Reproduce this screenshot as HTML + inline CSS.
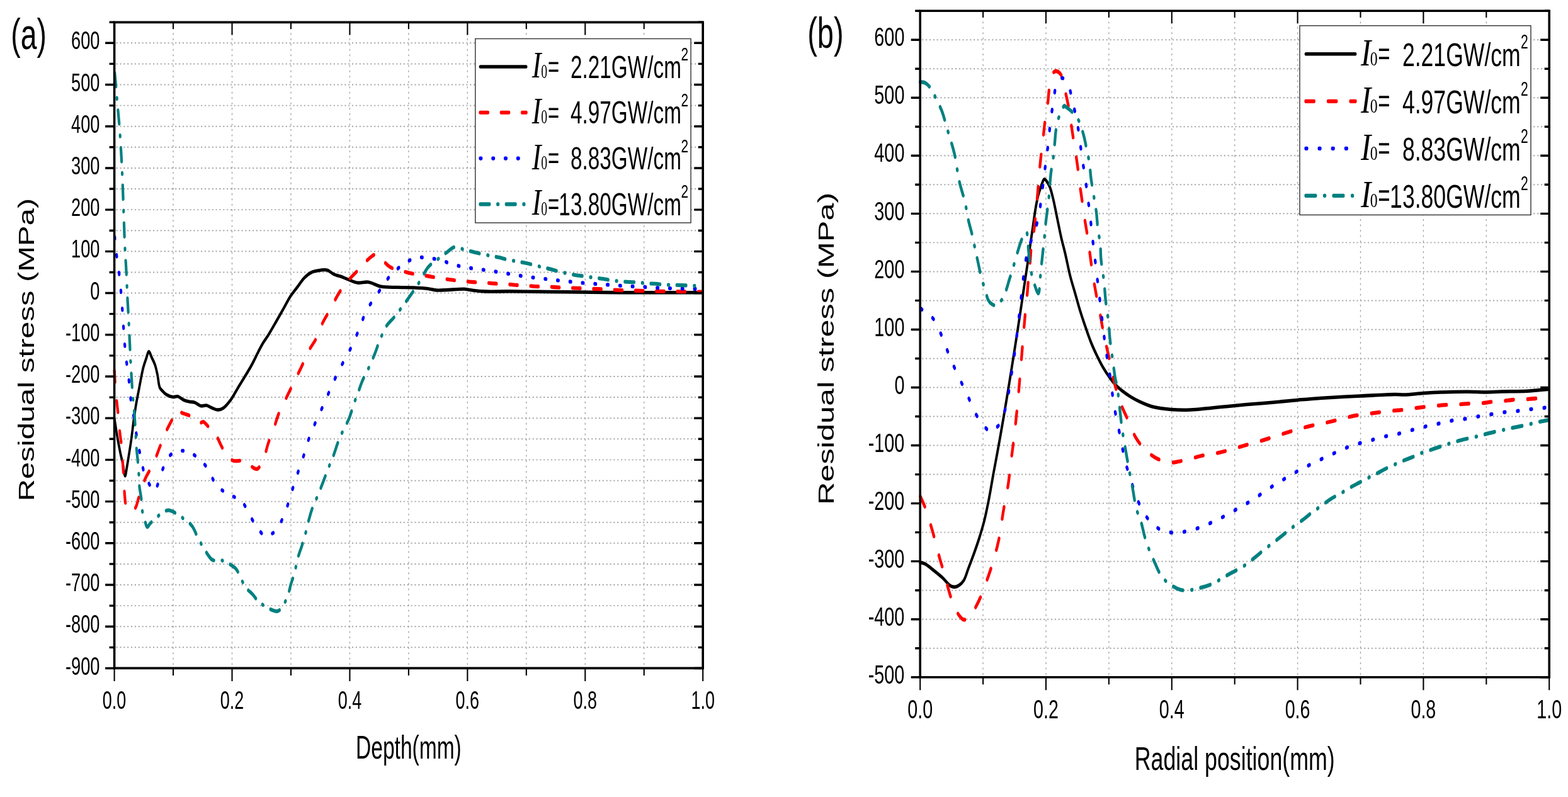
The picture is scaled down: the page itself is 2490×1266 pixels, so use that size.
<!DOCTYPE html><html><head><meta charset="utf-8"><title>Residual stress</title><style>html,body{margin:0;padding:0;background:#fff;}svg{display:block;}text{font-kerning:none;}</style></head><body><svg width="2490" height="1266" viewBox="0 0 2490 1266"><rect width="2490" height="1266" fill="#fff"/><g transform="scale(1,1.45)">
<path d="M275.06,24.41 V732 M368.52,24.41 V732 M461.98,24.41 V732 M555.44,24.41 V732 M648.9,24.41 V732 M742.36,24.41 V732 M835.82,24.41 V732 M929.28,24.41 V732 M1022.74,24.41 V732 M184.6,47.1 H1114.2 M184.6,69.93 H1114.2 M184.6,92.77 H1114.2 M184.6,115.6 H1114.2 M184.6,138.43 H1114.2 M184.6,161.26 H1114.2 M184.6,184.09 H1114.2 M184.6,206.92 H1114.2 M184.6,229.75 H1114.2 M184.6,252.58 H1114.2 M184.6,275.41 H1114.2 M184.6,298.24 H1114.2 M184.6,321.08 H1114.2 M184.6,343.91 H1114.2 M184.6,366.74 H1114.2 M184.6,389.57 H1114.2 M184.6,412.4 H1114.2 M184.6,435.23 H1114.2 M184.6,458.06 H1114.2 M184.6,480.89 H1114.2 M184.6,503.72 H1114.2 M184.6,526.56 H1114.2 M184.6,549.39 H1114.2 M184.6,572.22 H1114.2 M184.6,595.05 H1114.2 M184.6,617.88 H1114.2 M184.6,640.71 H1114.2 M184.6,663.54 H1114.2 M184.6,686.37 H1114.2 M184.6,709.2 H1114.2" stroke="#a6a6a6" stroke-width="1.35" stroke-dasharray="2.1 3.75" fill="none"/>
</g>
<g transform="scale(1,1.45)">
<path d="M181.7,458.55 C183.17,464.94 184.51,471.38 186.1,477.72 C187.68,484.04 189.6,491.34 191.2,496.55 C192.35,500.32 193.39,502.62 194.5,506.21 C195.88,510.65 197.43,521.23 198.7,521.24 C199.71,521.25 200.56,515.28 201.5,511.72 C202.68,507.27 203.93,501.61 205.1,496.55 C206.27,491.5 207.36,486.96 208.5,481.38 C209.89,474.56 211.27,465.61 212.7,458.55 C213.94,452.41 215.17,446.72 216.5,441.38 C217.68,436.64 218.74,433.21 220.2,428.07 C222.21,420.97 225.11,409.13 227.5,402.76 C229.02,398.71 230.45,396.14 232,393.1 C233.43,390.3 234.85,385.25 236.4,385.17 C237.86,385.1 239.45,389.43 241,391.72 C242.68,394.21 244.65,396.67 246.1,399.59 C247.7,402.81 248.8,406.48 250,410.34 C251.36,414.71 251.82,421.43 253.7,424.48 C254.88,426.4 256.38,427.05 258,428.28 C259.83,429.66 261.77,431.22 264.2,432.28 C267.13,433.55 271.38,434.63 274.6,434.9 C277.31,435.12 279.58,433.86 282.2,434.28 C285.22,434.76 288.41,437.23 291.6,438.21 C294.71,439.16 298.1,439.71 301.1,440.14 C303.76,440.52 306.01,440.15 308.7,440.76 C311.94,441.49 315.75,444.2 319.1,444.69 C322.05,445.12 324.89,443.74 327.7,444.07 C330.52,444.4 333.08,445.9 336,446.69 C339.18,447.55 342.88,448.97 346.1,448.97 C349.06,448.96 351.71,448.37 354.6,447.03 C358.3,445.32 362.37,441.85 366,438.48 C370,434.77 373.45,429.94 377.4,425.45 C381.66,420.61 386.67,415.07 390.7,410.41 C394.13,406.45 397.03,403.23 400.1,399.31 C403.34,395.18 406.61,390.23 409.6,386.21 C412.2,382.71 414.29,379.65 417,376.48 C419.86,373.14 423.1,370.36 426.4,366.69 C430.36,362.28 434.92,356.63 439,351.72 C442.91,347.03 446.61,342.48 450.4,337.86 C454.18,333.26 457.85,328.13 461.7,324.07 C465.14,320.44 468.64,317.72 472.2,314.48 C475.87,311.15 479.48,307.1 483.4,304.34 C487.01,301.81 490.55,299.74 494.7,298.34 C499.19,296.83 504.99,296.3 509.5,295.93 C513.26,295.63 516.57,295.23 519.9,295.93 C523.24,296.63 525.9,298.92 529.5,300.14 C533.85,301.6 539.81,302.54 544.3,303.72 C548.08,304.72 551.03,305.74 554.7,306.69 C558.78,307.75 563.02,309.27 567.7,309.72 C573.05,310.24 579.14,308.5 585.1,309.1 C591.58,309.76 597.94,312.96 605.1,313.93 C613.17,315.02 622.51,314.56 631.2,314.76 C639.87,314.95 648.82,314.83 657.2,315.1 C665.05,315.36 673.46,315.69 680,316.28 C684.98,316.72 687.43,317.66 693.1,317.93 C703.49,318.43 729.23,316.31 737.4,316.62 C740.54,316.74 741.07,317.05 743.9,317.31 C749.24,317.81 758.17,318.82 767,319.17 C778.83,319.65 794.38,319.12 808.6,319.17 C823.57,319.23 839.4,319.4 854.7,319.52 C869.87,319.63 882.66,319.73 900,319.86 C923.39,320.04 951.66,320.37 982.4,320.48 C1021.45,320.63 1071.07,320.48 1115.4,320.48" fill="none" stroke="#000" stroke-width="3.7" stroke-linecap="round" stroke-linejoin="round"/>
<path d="M181.7,406.21 C182.13,411.45 182.41,416.5 183,421.93 C183.64,427.82 184.63,434.41 185.5,440.28 C186.3,445.71 187.22,450.53 188,455.93 C188.83,461.68 189.4,468.14 190.3,473.79 C191.12,478.96 192.34,483.26 193.1,488.55 C193.97,494.62 194.39,502.17 195,508.21 C195.52,513.37 196.05,517.47 196.5,522.55 C197,528.29 197.17,535.48 197.8,540.9 C198.31,545.25 198.72,549.74 199.7,552.62 C200.33,554.46 200.9,555.89 202,556.9 C203.04,557.85 204.64,558.4 206,558.62 C207.31,558.83 208.62,558.57 210,558.28 C211.57,557.94 213.4,557.92 214.9,556.55 C217.51,554.17 219.03,547.25 221.5,542.21 C224.32,536.44 227.32,529.57 231,523.86 C234.61,518.26 239.56,513.78 243.3,508.21 C247.15,502.47 250.39,495.67 253.7,489.86 C256.7,484.6 258.89,480.02 262.3,474.83 C266.29,468.75 272.72,460.32 276.5,455.86 C278.73,453.24 279.98,450.46 282.2,449.93 C284.39,449.41 286.58,451.6 289.7,452.55 C294.72,454.09 304.46,455.6 309.6,457.79 C313.2,459.32 315.67,462.59 318.2,463.03 C319.96,463.35 321.24,461.71 323,462.07 C325.64,462.61 328.91,466.09 332,468.28 C335.33,470.64 339.09,472.58 342.3,475.79 C346.08,479.59 349.32,485.97 352.7,490.14 C355.53,493.62 357.99,496.85 361,499.31 C363.74,501.55 366.27,503.54 369.8,504.55 C374.23,505.82 381.36,504.03 385.9,504.9 C389.43,505.57 392.11,506.94 395,508.28 C397.81,509.57 400.48,511.89 403,512.76 C405,513.45 406.74,514.31 408.7,513.66 C411.72,512.65 415.52,507.9 418.2,503.86 C421.38,499.07 422.96,491.85 425.7,486.21 C428.34,480.76 431.51,475.97 434.3,470.55 C437.22,464.88 439.5,458.54 442.8,452.9 C446.13,447.2 450.33,442.11 454.2,436.55 C458.22,430.78 462.45,424.59 466.5,418.9 C470.35,413.48 474.15,408.64 477.9,403.17 C481.83,397.44 485.3,390.82 489.5,385.24 C493.56,379.85 498.69,375.59 502.6,370.21 C506.54,364.79 509.25,358.15 513,352.83 C516.52,347.84 520.38,344.02 524.3,339.1 C528.74,333.54 533.26,326.52 538.2,321.1 C542.86,315.99 547.6,311.75 553,307.31 C558.83,302.52 566.25,297.78 572.1,293.52 C577.11,289.87 581.61,285.83 586,283.31 C589.49,281.31 592.76,278.91 596,278.97 C599.12,279.02 601.81,281.47 605.1,283.31 C609.32,285.67 613.83,290.15 619,292.34 C624.5,294.68 631.43,295.32 637.3,296.55 C642.7,297.68 647.54,298.73 652.9,299.52 C658.52,300.34 664.68,300.67 670.3,301.31 C675.59,301.91 680.39,302.62 685.7,303.24 C691.37,303.91 697.6,304.57 703.3,305.17 C708.68,305.74 713.62,306.29 719,306.76 C724.67,307.26 730.82,307.68 736.5,308.07 C741.87,308.44 746.82,308.77 752.2,309.03 C757.9,309.31 764.1,309.38 769.8,309.66 C775.18,309.92 780.12,310.36 785.5,310.62 C791.17,310.9 797.33,310.97 803,311.24 C808.38,311.5 813.39,311.94 818.7,312.21 C824.15,312.48 829.85,312.56 835.3,312.83 C840.61,313.09 845.61,313.59 851,313.79 C856.7,314.01 862.9,313.9 868.6,314.07 C873.98,314.23 878.98,314.54 884.3,314.76 C889.8,314.98 895.52,315.23 901.1,315.38 C906.65,315.53 912.17,315.49 917.7,315.66 C923.23,315.82 928.76,316.18 934.3,316.34 C939.86,316.51 945.44,316.47 951,316.62 C956.54,316.77 962.07,317.02 967.6,317.24 C973.13,317.46 978.74,317.77 984.2,317.93 C989.51,318.09 994.55,318.11 999.9,318.21 C1005.48,318.31 1011.38,318.44 1017,318.55 C1022.47,318.67 1027.77,318.79 1033.2,318.9 C1038.7,319 1044.19,319.13 1049.8,319.17 C1055.58,319.22 1061.7,319.11 1067.4,319.17 C1072.78,319.23 1077.79,319.46 1083.1,319.52 C1088.56,319.58 1094.24,319.47 1099.7,319.52 C1105.01,319.56 1110.17,319.7 1115.4,319.79" fill="none" stroke="#ff0000" stroke-width="4.2" stroke-linecap="round" stroke-linejoin="round" stroke-dasharray="12.4 20.9"/>
<path d="M182.2,259.66 C183.2,266.39 184.04,273.15 185.2,279.86 C186.37,286.59 188.03,293.29 189.2,300 C190.36,306.66 191.33,313.31 192.2,320 C193.07,326.69 193.72,333.41 194.4,340.14 C195.08,346.88 195.63,353.72 196.3,360.41 C196.96,367 197.53,373.43 198.4,380 C199.29,386.71 200.44,393.53 201.6,400.28 C202.77,407.04 204.3,413.79 205.4,420.55 C206.5,427.28 206.9,434.22 208.2,440.76 C209.46,447.06 211.47,452.72 213,459.1 C214.65,465.99 215.93,473.69 217.7,480.69 C219.41,487.42 221.37,493.76 223.4,500.34 C225.47,507.07 227.28,515.25 230,520.62 C232.04,524.64 234.74,527.56 237,530.34 C238.85,532.63 240.65,535 242.4,536.28 C243.63,537.17 244.89,538.25 246,537.93 C247.51,537.49 248.65,534.21 250,531.72 C251.83,528.35 253.56,523.28 255.6,519.31 C257.57,515.47 259.59,511.69 262,508.28 C264.34,504.95 266.79,501.24 269.8,499.03 C272.53,497.03 275.78,496.05 279,495.17 C282.3,494.28 286,493.77 289.4,493.79 C292.67,493.81 295.76,494.36 299,495.17 C302.49,496.05 305.7,497.02 309.6,499.03 C315.18,501.92 322.93,506.81 328.6,512.14 C334.53,517.71 338.03,527 344.2,532 C349.98,536.69 357.4,538.89 364.1,541.79 C370.67,544.64 378.16,545.14 384,549.31 C390.42,553.9 395.58,563.65 400.4,569.1 C403.96,573.13 406.68,576.33 410,579.31 C413.06,582.06 416.24,585.59 419.5,586.48 C422.27,587.24 425.12,586.24 428,585.52 C431.18,584.72 434.48,584.12 437.7,581.66 C442.66,577.86 448.39,568.72 452.5,561.86 C456.42,555.32 458.87,548.27 462,541.52 C465.1,534.83 468.01,528.18 471.2,521.52 C474.44,514.76 478.13,507.98 481.3,501.24 C484.38,494.69 486.65,488.17 490,481.66 C493.53,474.77 497.87,467.78 502.1,461.03 C506.33,454.29 511.12,447.83 515.4,441.17 C519.62,434.61 523.3,427.92 527.6,421.38 C531.99,414.7 536.64,408.13 541.5,401.52 C546.52,394.68 552.43,387.97 557.3,381.03 C562.01,374.33 566.19,367.41 570.3,360.62 C574.28,354.04 576.89,347.26 581.6,340.9 C586.83,333.83 594.33,327.05 600.8,320.48 C607.1,314.08 613.14,307.13 619.9,301.93 C626.22,297.07 633.09,293.22 639.9,289.93 C646.4,286.8 653.1,283.68 659.8,282.48 C666.2,281.34 672.66,282.13 679.2,282.55 C685.93,282.98 692.92,283.92 699.6,285.1 C706.18,286.27 712.51,288.31 719,289.59 C725.45,290.86 731.89,291.91 738.4,292.76 C744.95,293.61 751.59,294.06 758.2,294.69 C764.82,295.32 771.48,295.86 778.1,296.55 C784.71,297.24 791.29,298.08 797.9,298.83 C804.52,299.58 811.21,300.29 817.8,301.03 C824.31,301.77 830.65,302.61 837.2,303.24 C843.88,303.88 850.81,304.28 857.5,304.83 C864.04,305.36 870.39,305.96 876.9,306.48 C883.49,307.02 890.2,307.53 896.8,308 C903.33,308.47 909.77,308.89 916.3,309.31 C922.9,309.74 929.57,310.18 936.2,310.55 C942.81,310.92 949.39,311.2 956,311.52 C962.62,311.84 969.27,312.16 975.9,312.48 C982.53,312.8 989.21,313.18 995.8,313.45 C1002.31,313.71 1008.7,313.81 1015.2,314.07 C1021.77,314.33 1028.43,314.77 1035,315.03 C1041.5,315.3 1047.86,315.49 1054.4,315.66 C1061.09,315.82 1068.01,315.88 1074.7,316 C1081.24,316.11 1087.55,316.24 1094.1,316.34 C1100.81,316.45 1107.7,316.53 1114.5,316.62" fill="none" stroke="#0000ff" stroke-width="4.2" stroke-linecap="round" stroke-linejoin="round" stroke-dasharray="1.8 18"/>
<path d="M182.2,80 C182.8,84.37 183.41,88.43 184,93.1 C184.68,98.45 185.2,103.79 186,110.34 C187.06,119.04 188.72,129.71 189.9,140.69 C191.3,153.65 192.58,169 193.6,183.17 C194.62,197.33 195.23,211.49 196,225.66 C196.77,239.82 197.35,255.4 198.2,268.14 C198.89,278.56 199.83,287.21 200.5,296.55 C201.15,305.62 201.56,314.35 202.2,323.38 C202.85,332.58 203.82,343.48 204.4,351.24 C204.81,356.81 205.02,359.98 205.4,365.59 C205.94,373.52 206.48,383.87 207.3,394.34 C208.29,407 209.92,426.21 211.1,436.21 C211.76,441.82 212.37,444.04 213,449.31 C213.95,457.26 215.11,471.59 215.8,479.31 C216.23,484.16 216.34,487.13 216.8,491.17 C217.29,495.44 218.1,499.62 218.7,504.28 C219.38,509.56 220.12,516.02 220.6,521.24 C221.01,525.7 220.89,529.54 221.5,533.66 C222.12,537.82 223.53,541.76 224.3,546.07 C225.12,550.68 225.23,557.24 226.2,560.48 C226.73,562.26 227.32,562.71 228.1,564.41 C229.51,567.48 231.69,576.97 233.8,577.45 C235.12,577.74 236.42,575 238,573.79 C239.83,572.4 242,571.07 244.2,569.66 C246.64,568.09 249.18,566.38 252,564.83 C255.15,563.1 259.31,560.8 262.3,559.86 C264.42,559.2 266.04,558.9 268,558.97 C270.13,559.04 272.07,559.64 274.6,560.48 C278.3,561.72 283.18,564 287.8,566.34 C293.2,569.09 300.35,572.12 304.9,576.21 C309.01,579.9 311.18,585.04 314.4,589.24 C317.52,593.31 320.41,597.21 323.9,601.03 C327.58,605.06 332.77,610.9 336,612.76 C337.68,613.73 338.54,613.74 340.4,614 C343.43,614.42 348.46,613.3 352.6,614 C357.15,614.77 362.47,617.04 366.5,618.83 C369.81,620.29 372.75,621.49 375.2,623.59 C377.64,625.68 379.04,628.49 381.2,631.38 C383.85,634.93 386.48,640.04 389.9,643.38 C393.19,646.59 397.57,648.38 401.2,651.17 C404.84,653.97 408.42,658.1 411.7,660.14 C414.12,661.64 415.97,662.02 418.6,663.1 C422.08,664.54 426.97,666.83 430.8,667.93 C434.04,668.86 437.2,670.04 440,669.66 C442.56,669.3 444.7,668.13 447,666.21 C450.34,663.42 454.26,657.55 456.8,652.97 C459.16,648.72 460.19,643.94 462,639.79 C463.67,635.98 465.53,633.12 467.2,628.97 C469.33,623.67 471.07,615.93 473.3,610.41 C475.19,605.75 477.49,602.02 479.4,597.86 C481.25,593.84 482.84,590.3 484.6,585.86 C486.73,580.5 488.92,573.24 491.1,567.86 C492.92,563.36 494.45,559.65 496.6,555.66 C498.83,551.51 501.62,547.92 504.3,543.45 C507.47,538.15 511.34,531.2 514.3,525.86 C516.75,521.44 518.56,517.76 520.9,513.66 C523.35,509.37 526.11,505.39 528.7,500.69 C531.65,495.34 534.52,488.42 537.5,483.17 C540.06,478.66 542.56,475 545.3,470.97 C548.09,466.86 551.34,463.37 554.1,458.76 C557.31,453.39 560.2,445.88 563,440.41 C565.31,435.9 567.4,432.28 569.6,428.21 C571.8,424.14 573.75,419.89 576.2,416 C578.62,412.15 581.38,409.14 584.2,404.97 C587.72,399.76 592.27,392.62 595.5,387.03 C598.21,382.34 599.75,378.39 602.5,373.79 C605.7,368.45 609.57,361.59 613.8,357.03 C617.51,353.05 621.99,350.8 626,347.45 C630.09,344.02 633.75,340.73 638.1,336.69 C643.42,331.75 650.48,324.88 655.5,319.86 C659.45,315.91 662.31,313.09 665.9,309.1 C670.09,304.45 674.99,297.16 679,293.52 C681.7,291.07 683.82,289.92 686.6,288.28 C689.69,286.45 693.27,284.99 696.8,283.17 C700.65,281.19 704.7,278.87 708.8,276.83 C713,274.73 717.05,271.37 721.7,270.76 C726.7,270.1 732.96,272.8 737.9,273.66 C742.06,274.38 745.45,274.92 749.4,275.59 C753.6,276.3 757.74,277.06 762.4,277.79 C767.8,278.64 774.61,279.61 779.9,280.34 C784.27,280.95 787.91,281.3 791.9,281.93 C795.91,282.56 799.51,283.45 803.9,284.14 C809.2,284.97 816.19,285.72 821.5,286.41 C825.88,286.99 829.5,287.43 833.5,288 C837.5,288.58 841.12,289.12 845.5,289.86 C850.81,290.76 857.79,292.2 863.1,293.1 C867.48,293.85 871.04,294.24 875.1,294.97 C879.33,295.72 883.4,296.78 888,297.59 C893.22,298.5 899.67,299.35 904.8,300.07 C909.13,300.68 912.79,301.23 916.8,301.66 C920.79,302.08 924.43,302.2 928.8,302.62 C934.09,303.13 941,304.05 946.3,304.55 C950.7,304.97 954.38,305.09 958.4,305.52 C962.41,305.94 966.02,306.66 970.4,307.1 C975.68,307.64 982.61,308.02 987.9,308.34 C992.27,308.61 995.9,308.8 999.9,308.97 C1003.9,309.13 1007.52,309.09 1011.9,309.31 C1017.21,309.57 1024.19,310.29 1029.5,310.55 C1033.88,310.77 1037.5,310.68 1041.5,310.9 C1045.5,311.11 1049.12,311.64 1053.5,311.86 C1058.78,312.13 1065.7,312.09 1071,312.21 C1075.4,312.3 1079.08,312.38 1083.1,312.48 C1087.11,312.59 1090.67,312.69 1095.1,312.83 C1100.58,313 1107.37,313.24 1113.5,313.45" fill="none" stroke="#008080" stroke-width="4.2" stroke-linecap="round" stroke-linejoin="round" stroke-dasharray="14.8 12.85 1 12.65"/>
</g>
<rect x="754.8" y="61.5" width="342.3" height="292.4" fill="#fff" stroke="#3c3c3c" stroke-width="1.5"/>
<g transform="scale(1,1.45)">
<path d="M762.5,73.1 L835.7,73.1" fill="none" stroke="#000" stroke-width="3.7" stroke-linecap="round"/>
<path d="M762.5,123.31 L835.7,123.31" fill="none" stroke="#ff0000" stroke-width="4.2" stroke-linecap="round" stroke-dasharray="12.4 20.9"/>
<path d="M762.5,173.52 L835.7,173.52" fill="none" stroke="#0000ff" stroke-width="4.2" stroke-linecap="round" stroke-dasharray="1.8 18"/>
<path d="M762.5,223.72 L835.7,223.72" fill="none" stroke="#008080" stroke-width="4.2" stroke-linecap="round" stroke-dasharray="14.8 12.85 1 12.65"/>
</g>
<g stroke="#000" fill="none" stroke-linecap="butt">
<path d="M181.6,35.4 H1116.2 V1061.4 H181.6 Z" stroke-width="3.6"/>
<path d="M173.6,35.19 H181.6 M1116.2,35.19 H1108.7 M167.1,68.3 H181.6 M1116.2,68.3 H1102.2 M173.6,101.41 H181.6 M1116.2,101.41 H1108.7 M167.1,134.51 H181.6 M1116.2,134.51 H1102.2 M173.6,167.62 H181.6 M1116.2,167.62 H1108.7 M167.1,200.72 H181.6 M1116.2,200.72 H1102.2 M173.6,233.82 H181.6 M1116.2,233.82 H1108.7 M167.1,266.93 H181.6 M1116.2,266.93 H1102.2 M173.6,300.04 H181.6 M1116.2,300.04 H1108.7 M167.1,333.14 H181.6 M1116.2,333.14 H1102.2 M173.6,366.25 H181.6 M1116.2,366.25 H1108.7 M167.1,399.35 H181.6 M1116.2,399.35 H1102.2 M173.6,432.46 H181.6 M1116.2,432.46 H1108.7 M167.1,465.56 H181.6 M1116.2,465.56 H1102.2 M173.6,498.67 H181.6 M1116.2,498.67 H1108.7 M167.1,531.77 H181.6 M1116.2,531.77 H1102.2 M173.6,564.88 H181.6 M1116.2,564.88 H1108.7 M167.1,597.98 H181.6 M1116.2,597.98 H1102.2 M173.6,631.08 H181.6 M1116.2,631.08 H1108.7 M167.1,664.19 H181.6 M1116.2,664.19 H1102.2 M173.6,697.29 H181.6 M1116.2,697.29 H1108.7 M167.1,730.4 H181.6 M1116.2,730.4 H1102.2 M173.6,763.5 H181.6 M1116.2,763.5 H1108.7 M167.1,796.61 H181.6 M1116.2,796.61 H1102.2 M173.6,829.72 H181.6 M1116.2,829.72 H1108.7 M167.1,862.82 H181.6 M1116.2,862.82 H1102.2 M173.6,895.92 H181.6 M1116.2,895.92 H1108.7 M167.1,929.03 H181.6 M1116.2,929.03 H1102.2 M173.6,962.13 H181.6 M1116.2,962.13 H1108.7 M167.1,995.24 H181.6 M1116.2,995.24 H1102.2 M173.6,1028.35 H181.6 M1116.2,1028.35 H1108.7 M167.1,1061.45 H181.6 M1116.2,1061.45 H1102.2" stroke-width="3.4"/>
<path d="M181.6,1061.4 V1081.9 M181.6,35.4 V55.4 M275.06,1061.4 V1072.9 M275.06,35.4 V45.9 M368.52,1061.4 V1081.9 M368.52,35.4 V55.4 M461.98,1061.4 V1072.9 M461.98,35.4 V45.9 M555.44,1061.4 V1081.9 M555.44,35.4 V55.4 M648.9,1061.4 V1072.9 M648.9,35.4 V45.9 M742.36,1061.4 V1081.9 M742.36,35.4 V55.4 M835.82,1061.4 V1072.9 M835.82,35.4 V45.9 M929.28,1061.4 V1081.9 M929.28,35.4 V55.4 M1022.74,1061.4 V1072.9 M1022.74,35.4 V45.9 M1116.2,1061.4 V1081.9 M1116.2,35.4 V55.4" stroke-width="2.1"/>
</g>
<g transform="scale(1,1.45)">
<path d="M1561.1,11.86 V741.93 M1661,11.86 V741.93 M1760.9,11.86 V741.93 M1860.8,11.86 V741.93 M1960.7,11.86 V741.93 M2060.6,11.86 V741.93 M2160.5,11.86 V741.93 M2260.4,11.86 V741.93 M2360.3,11.86 V741.93 M1464.2,43.59 H2458.2 M1464.2,75.33 H2458.2 M1464.2,107.07 H2458.2 M1464.2,138.81 H2458.2 M1464.2,170.55 H2458.2 M1464.2,202.29 H2458.2 M1464.2,234.03 H2458.2 M1464.2,265.78 H2458.2 M1464.2,297.52 H2458.2 M1464.2,329.26 H2458.2 M1464.2,361 H2458.2 M1464.2,392.74 H2458.2 M1464.2,424.48 H2458.2 M1464.2,456.22 H2458.2 M1464.2,487.97 H2458.2 M1464.2,519.71 H2458.2 M1464.2,551.45 H2458.2 M1464.2,583.19 H2458.2 M1464.2,614.93 H2458.2 M1464.2,646.67 H2458.2 M1464.2,678.41 H2458.2 M1464.2,710.16 H2458.2" stroke="#a6a6a6" stroke-width="1.35" stroke-dasharray="2.1 3.75" fill="none"/>
</g>
<g transform="scale(1,1.45)">
<path d="M1461.2,616 C1463.93,616.62 1466.37,616.74 1469.4,617.86 C1473.6,619.42 1479.04,622.87 1483.7,625.45 C1488.24,627.96 1492.62,630.35 1497,633.1 C1501.49,635.93 1506.13,640.83 1510.3,642.21 C1513.38,643.23 1516.11,643.29 1519.1,642.55 C1522.71,641.66 1527.18,639.18 1530.2,636.14 C1533.46,632.85 1535.14,627.53 1537.6,623.1 C1540.14,618.55 1542.61,614.1 1545.2,609.17 C1548.07,603.71 1551.16,597.86 1554,591.72 C1557.07,585.1 1560.21,578.08 1562.9,570.76 C1565.75,563 1568.1,554.79 1570.5,546.34 C1573.05,537.36 1575.39,527.09 1577.7,518.34 C1579.74,510.62 1581.69,503.73 1583.6,496.55 C1585.46,489.57 1587.23,482.76 1589,475.86 C1590.77,468.97 1592.5,462.07 1594.2,455.17 C1595.9,448.28 1597.55,441.38 1599.2,434.48 C1600.85,427.59 1602.48,420.69 1604.1,413.79 C1605.72,406.9 1607.32,400 1608.9,393.1 C1610.48,386.21 1612.05,379.31 1613.6,372.41 C1615.15,365.52 1616.68,358.62 1618.2,351.72 C1619.72,344.83 1621.22,337.93 1622.7,331.03 C1624.18,324.14 1625.62,317.24 1627.1,310.34 C1628.58,303.45 1630.13,296.56 1631.6,289.66 C1633.07,282.76 1634.45,275.86 1635.9,268.97 C1637.35,262.07 1638.83,255.17 1640.3,248.28 C1641.77,241.38 1643.17,233.67 1644.7,227.59 C1645.93,222.7 1647,218.47 1648.5,214.48 C1649.82,210.96 1651.32,207.89 1653,204.83 C1654.63,201.85 1656.23,196.63 1658.4,196.34 C1660.64,196.05 1664.12,200.54 1666.3,203.59 C1668.81,207.09 1670.24,211.88 1672,216.62 C1674.02,222.05 1675.77,228.77 1677.5,234.48 C1679.09,239.74 1680.56,244.91 1682,249.66 C1683.28,253.88 1684.27,257.31 1685.7,261.59 C1687.39,266.62 1689.55,271.91 1691.6,277.93 C1694.1,285.27 1696.7,294.87 1699.5,302.48 C1702,309.29 1704.77,315.17 1707.4,321.52 C1710.04,327.88 1712.42,334.18 1715.3,340.62 C1718.32,347.37 1722.04,354.86 1725.2,361.1 C1727.9,366.45 1730.19,371.09 1733,375.86 C1735.79,380.6 1738.9,385.23 1742,389.66 C1745.01,393.95 1748,398.14 1751.3,402.07 C1754.57,405.95 1758.23,409.77 1761.7,413.1 C1764.86,416.15 1767.86,418.9 1771.2,421.38 C1774.5,423.83 1777.8,425.82 1781.6,427.93 C1785.91,430.32 1791.02,432.79 1795.8,434.83 C1800.48,436.82 1804.82,438.41 1810,440.07 C1816.06,442.01 1822.6,444.14 1830,445.52 C1838.93,447.18 1849.99,448.03 1860,448.62 C1869.99,449.2 1880,449.28 1890,449.03 C1900,448.79 1910,447.83 1920,447.17 C1930,446.52 1940,445.78 1950,445.1 C1960,444.43 1969.24,443.76 1980,443.1 C1992.51,442.34 2007.13,441.65 2020.6,440.83 C2033.96,440.01 2047.55,439.01 2060.5,438.21 C2072.78,437.45 2082.73,436.78 2096.4,436.14 C2114.61,435.29 2139.65,434.56 2160.1,433.86 C2179.08,433.21 2202.41,432.13 2215,432.07 C2221.6,432.04 2224.2,432.51 2230.1,432.41 C2238.46,432.28 2250.31,431.23 2260.4,430.76 C2270.47,430.29 2279.81,429.86 2290.6,429.59 C2303.06,429.27 2318.83,429.07 2330.9,429.1 C2340.74,429.13 2348.76,429.61 2357.7,429.59 C2366.66,429.56 2374.73,429.15 2384.6,428.97 C2396.68,428.74 2412.03,428.89 2424.9,428.41 C2436.75,427.97 2447.63,427.03 2459,426.34" fill="none" stroke="#000" stroke-width="3.8110000000000004" stroke-linecap="round" stroke-linejoin="round"/>
<path d="M1461.6,543.86 C1464.57,548.69 1467.71,553.03 1470.5,558.34 C1473.66,564.35 1476.62,571.84 1479.3,578.21 C1481.74,584.01 1483.8,589.31 1486,594.97 C1488.24,600.73 1490.23,606.68 1492.6,612.48 C1494.99,618.35 1497.89,624.12 1500.3,630 C1502.69,635.83 1504.56,641.91 1507,647.59 C1509.37,653.1 1511.92,659.06 1514.7,663.59 C1516.99,667.3 1519.27,670.5 1522,673.1 C1524.49,675.48 1527.4,678.37 1530.2,678.83 C1532.71,679.24 1535.47,677.9 1537.9,676.55 C1540.67,675.02 1542.94,672.7 1545.7,669.66 C1549.76,665.18 1555.11,657.47 1558.9,651.38 C1562.38,645.79 1564.9,640.36 1567.8,634.62 C1570.8,628.67 1573.96,622.3 1576.6,616.28 C1579.09,610.61 1581.27,605.2 1583.3,599.52 C1585.34,593.78 1587.32,587.81 1588.8,582 C1590.23,576.39 1590.84,570.88 1592.1,565.24 C1593.4,559.43 1595,553.44 1596.5,547.66 C1597.97,542 1599.65,537.02 1601,530.9 C1602.6,523.65 1603.68,515.32 1605.2,506.9 C1606.89,497.5 1608.97,487.47 1610.7,477.1 C1612.58,465.85 1614.38,453.44 1616,441.79 C1617.58,430.41 1618.9,419.39 1620.3,408 C1621.73,396.36 1623.08,384.39 1624.5,372.69 C1625.91,361.11 1627.53,347.27 1628.8,338.14 C1629.64,332.11 1630.38,328.5 1631.1,323.17 C1631.92,317.09 1632.58,309.81 1633.4,303.59 C1634.15,297.89 1635.04,293 1635.8,287.24 C1636.65,280.82 1637.05,272.84 1638.2,266.83 C1639.14,261.94 1640.64,258.73 1641.7,253.72 C1643.08,247.18 1644.13,239.06 1645.3,230.83 C1646.67,221.25 1648.22,208.29 1649.3,199.66 C1650.06,193.53 1650.46,189.36 1651.2,183.93 C1652,178.06 1653.04,171.57 1654,165.66 C1654.91,160.05 1655.87,154.87 1656.8,149.31 C1657.77,143.54 1658.56,137.4 1659.7,131.66 C1660.8,126.1 1662.42,121.04 1663.5,115.38 C1664.65,109.32 1665.21,101.97 1666.3,96.41 C1667.17,91.99 1667.97,87.56 1669.2,84.62 C1670.02,82.67 1670.71,81.18 1672,80.07 C1673.3,78.95 1675.18,77.9 1677,77.93 C1679.21,77.97 1682.45,79.61 1684.3,81.38 C1686.15,83.15 1687.03,85.96 1688.1,88.55 C1689.26,91.37 1689.8,94.15 1690.9,97.72 C1692.46,102.78 1694.99,109.99 1696.6,116 C1698.13,121.73 1699.15,127.25 1700.4,132.97 C1701.68,138.79 1702.91,144.85 1704.2,150.62 C1705.44,156.18 1706.77,161.36 1708,166.97 C1709.3,172.88 1710.68,179.31 1711.8,185.24 C1712.86,190.83 1713.54,196 1714.6,201.59 C1715.72,207.52 1717.26,214.14 1718.4,219.86 C1719.4,224.91 1720,229.02 1721.1,234.14 C1722.39,240.17 1724.38,247.4 1725.8,253.72 C1727.13,259.63 1728.23,265.11 1729.4,270.9 C1730.6,276.8 1731.7,282.92 1732.9,288.83 C1734.07,294.62 1735.14,300.23 1736.5,306 C1737.9,311.95 1739.58,318.16 1741.2,324 C1742.75,329.59 1744.45,334.76 1746,340.34 C1747.62,346.17 1749.08,352.45 1750.7,358.28 C1752.25,363.86 1753.77,369.05 1755.5,374.62 C1757.32,380.49 1759.59,386.75 1761.4,392.62 C1763.11,398.18 1764.34,403.55 1766.1,408.97 C1767.87,414.44 1769.71,419.77 1772,425.31 C1774.46,431.25 1777.19,437.47 1780.5,443.45 C1783.98,449.73 1788.64,456.04 1792.5,462.07 C1796.13,467.74 1799.37,474.1 1803,478.62 C1805.92,482.26 1808.77,484.84 1812,487.59 C1815.26,490.36 1818.57,492.83 1822.5,495.17 C1826.95,497.83 1831.86,500.57 1837.5,502.41 C1844.11,504.58 1853.65,506.25 1860,506.55 C1864.61,506.77 1867.39,506.1 1872,505.52 C1878.34,504.72 1887.96,502.94 1894.5,501.79 C1899.58,500.91 1902.99,500.06 1908,499.31 C1914.22,498.38 1922.6,497.78 1929,496.9 C1934.43,496.15 1938.68,495.43 1944,494.48 C1950.08,493.4 1957.86,491.83 1963.5,490.69 C1967.84,489.81 1970.18,489.26 1975,488.28 C1983.15,486.62 1996.75,484.13 2007.9,481.79 C2019.5,479.36 2031.48,476.41 2043.3,473.93 C2055.09,471.46 2066.88,469 2078.7,466.97 C2090.48,464.94 2102.31,463.61 2114.1,461.72 C2125.91,459.84 2137.67,457.25 2149.5,455.66 C2161.27,454.06 2173.57,453.17 2184.9,452.14 C2195.34,451.19 2207.13,450.17 2215,449.66 C2220.06,449.32 2222.91,449.38 2227.5,449.03 C2233.13,448.62 2240.27,447.73 2246.3,447.17 C2251.87,446.66 2256.82,446.24 2262.4,445.79 C2268.42,445.31 2275.05,444.81 2281.2,444.41 C2287.11,444.03 2292.79,443.68 2298.6,443.45 C2304.42,443.22 2310.27,443.26 2316.1,443.03 C2321.94,442.8 2327.66,442.3 2333.6,442.07 C2339.75,441.83 2346.32,441.99 2352.4,441.66 C2358.14,441.34 2363.52,440.6 2369.1,440.21 C2374.69,439.82 2380.25,439.68 2385.9,439.31 C2391.68,438.93 2397.51,438.24 2403.4,437.93 C2409.38,437.62 2415.58,437.69 2421.5,437.45 C2427.21,437.22 2432.44,436.78 2438.3,436.55 C2444.72,436.3 2451.77,436.23 2458.5,436.07" fill="none" stroke="#ff0000" stroke-width="4.3260000000000005" stroke-linecap="round" stroke-linejoin="round" stroke-dasharray="13.23 22.3"/>
<path d="M1462.5,338.14 C1469.23,342.05 1477,344.59 1482.7,349.86 C1488.66,355.38 1492.81,363.78 1497.2,370.9 C1501.44,377.77 1504.57,384.93 1508.7,391.79 C1512.9,398.77 1517.62,405.59 1522.2,412.41 C1526.79,419.24 1531.65,425.92 1536.2,432.76 C1540.72,439.56 1544.95,447.73 1549.4,453.31 C1552.9,457.71 1556.65,461.05 1560,464.14 C1562.76,466.68 1565.46,469.14 1567.9,470.69 C1569.71,471.84 1571.17,473.12 1573,473.1 C1575.15,473.09 1577.62,471.07 1580,469.66 C1582.71,468.04 1585.76,466.8 1588.3,463.79 C1592.11,459.3 1595.66,450.29 1598.2,443.24 C1600.7,436.33 1601.83,428.98 1603.5,421.93 C1605.13,415.03 1606.62,408.24 1608.1,401.38 C1609.58,394.52 1611.08,387.64 1612.4,380.76 C1613.71,373.9 1614.81,367.07 1616,360.14 C1617.21,353.09 1618.46,345.87 1619.6,338.83 C1620.72,331.92 1621.68,325.11 1622.8,318.28 C1623.92,311.46 1624.92,304.65 1626.3,297.86 C1627.69,291.04 1629.2,283.17 1631.1,277.45 C1632.56,273.07 1634.18,269.74 1636,266.21 C1637.73,262.84 1639.8,260.62 1641.7,256.69 C1644.46,250.99 1647.93,242.05 1650,234.83 C1651.94,228.06 1652.71,221.48 1654,214.69 C1655.31,207.78 1656.52,200.65 1657.8,193.72 C1659.06,186.92 1660.34,180.31 1661.6,173.52 C1662.88,166.61 1664.29,159.55 1665.4,152.62 C1666.49,145.82 1666.97,139.13 1668.2,132.34 C1669.46,125.41 1671.31,118.36 1672.9,111.45 C1674.47,104.63 1675.41,95.26 1677.7,91.17 C1678.93,88.97 1680.38,87.84 1682,86.9 C1683.5,86.02 1685.43,85.47 1687,85.52 C1688.41,85.56 1689.67,86.18 1691,86.9 C1692.57,87.75 1694.22,88.52 1695.7,90.55 C1698.56,94.48 1700.91,104.52 1703.3,111.45 C1705.64,118.22 1708.02,124.81 1709.9,131.66 C1711.79,138.53 1713.18,145.62 1714.6,152.62 C1716.01,159.58 1716.96,166.63 1718.4,173.52 C1719.83,180.33 1721.77,186.91 1723.2,193.72 C1724.64,200.63 1725.72,207.89 1727,214.69 C1728.22,221.16 1729.56,226.99 1730.7,233.59 C1731.94,240.77 1732.9,248.87 1734.1,256.21 C1735.24,263.19 1736.53,269.75 1737.7,276.62 C1738.9,283.63 1740,290.86 1741.2,297.86 C1742.37,304.74 1743.63,311.4 1744.8,318.28 C1746,325.28 1747.1,332.51 1748.3,339.52 C1749.47,346.39 1750.7,353.13 1751.9,359.93 C1753.1,366.74 1754.12,373.56 1755.5,380.34 C1756.89,387.17 1758.65,393.88 1760.2,400.76 C1761.78,407.77 1763.5,414.97 1764.9,422 C1766.26,428.86 1766.92,435.63 1768.5,442.41 C1770.11,449.33 1772.5,456.21 1774.5,463.1 C1776.5,470 1778.5,476.9 1780.5,483.79 C1782.5,490.69 1784.04,497.66 1786.5,504.48 C1789.02,511.46 1792.31,518.22 1795.5,525.17 C1798.8,532.36 1801.78,540.04 1806,546.9 C1810.27,553.84 1815.02,561.04 1821,566.55 C1827.01,572.09 1834.7,577.19 1842,580 C1848.74,582.6 1855.98,583.18 1863,583.52 C1869.98,583.86 1877.03,582.99 1884,582.07 C1891.03,581.14 1898.04,579.64 1905,577.93 C1912.04,576.2 1919.02,573.96 1926,571.72 C1933.03,569.48 1939.91,567.12 1947,564.48 C1954.4,561.73 1962.16,558.46 1969.5,555.52 C1976.55,552.69 1983.29,550.25 1990.2,547.17 C1997.35,543.99 2004.61,539.94 2011.7,536.69 C2018.5,533.57 2025.06,530.92 2031.9,528 C2038.95,524.99 2046.31,521.7 2053.4,518.9 C2060.21,516.2 2066.75,513.89 2073.6,511.45 C2080.64,508.94 2087.92,506.46 2095.1,504.07 C2102.26,501.68 2109.43,499.37 2116.6,497.1 C2123.76,494.84 2130.94,492.42 2138.1,490.48 C2145.11,488.59 2152.11,487.04 2159.1,485.59 C2166.01,484.15 2172.84,483.08 2179.8,481.79 C2186.9,480.48 2194.18,478.94 2201.3,477.79 C2208.28,476.67 2215.13,476.11 2222.1,474.97 C2229.22,473.8 2236.49,472.15 2243.6,470.83 C2250.59,469.53 2257.4,468.26 2264.4,467.1 C2271.5,465.93 2278.79,464.95 2285.9,463.86 C2292.89,462.79 2299.75,461.47 2306.7,460.62 C2313.62,459.77 2320.52,459.52 2327.5,458.76 C2334.61,457.98 2341.89,456.86 2349,456 C2355.99,455.16 2362.81,454.42 2369.8,453.66 C2376.91,452.88 2384.19,451.99 2391.3,451.38 C2398.28,450.78 2405.17,450.54 2412.1,450 C2419.04,449.46 2425.64,448.72 2432.9,448.14 C2440.87,447.5 2449.63,446.94 2458,446.34" fill="none" stroke="#0000ff" stroke-width="4.3260000000000005" stroke-linecap="round" stroke-linejoin="round" stroke-dasharray="1.92 19.21"/>
<path d="M1461.3,89.66 C1463.93,90.02 1466.57,89.73 1469.2,90.76 C1472.37,91.99 1475.88,94.56 1478.7,97.31 C1481.74,100.28 1483.88,104.31 1486.6,108.21 C1489.66,112.59 1493.29,117.17 1496.1,122.34 C1499.16,127.98 1501.49,135.14 1504,140.9 C1506.2,145.94 1508.26,150.12 1510.3,155.03 C1512.47,160.26 1514.67,165.22 1516.6,171.38 C1519,179.02 1520.32,189.14 1523,197.59 C1525.61,205.84 1529.85,213.87 1532.4,221.52 C1534.67,228.33 1535.83,235.08 1537.8,241.17 C1539.56,246.62 1541.76,251.31 1543.5,256.41 C1545.22,261.47 1546.62,266.57 1548.2,271.66 C1549.79,276.75 1551.28,281.55 1553,286.97 C1554.95,293.1 1557.17,301.2 1559.3,306.55 C1560.85,310.44 1562.4,312.86 1564,316.34 C1565.79,320.26 1567.23,326.01 1569.5,328.9 C1571.11,330.95 1572.9,332.15 1575,333.1 C1577.21,334.11 1580.13,335.11 1582.5,334.62 C1585.01,334.11 1587.4,331.87 1589.6,329.72 C1592.2,327.18 1594.6,323.55 1596.7,319.93 C1598.99,315.99 1600.62,311.19 1602.6,306.83 C1604.58,302.46 1606.56,298.4 1608.6,293.72 C1610.91,288.42 1613.25,282.07 1615.7,276.62 C1618,271.5 1620.5,265.36 1622.8,261.93 C1624.23,259.8 1625.72,258.69 1627,257.24 C1628.09,256.01 1629.15,253.55 1630,253.79 C1631.89,254.33 1632.33,268.75 1633.5,275.86 C1634.6,282.52 1635.29,289.29 1636.8,295.17 C1638.12,300.31 1639.62,304.89 1641.7,309.31 C1643.72,313.61 1647.29,321.71 1649,321.38 C1650.94,321.01 1651.03,309.64 1652,303.45 C1653.04,296.8 1653.95,289.66 1655,282.76 C1656.05,275.82 1657.32,268.63 1658.3,261.93 C1659.21,255.72 1659.83,249.45 1660.7,243.93 C1661.45,239.21 1662.31,235.18 1663.1,230.83 C1663.88,226.51 1664.73,222.54 1665.4,217.93 C1666.16,212.67 1666.62,206.25 1667.3,200.97 C1667.9,196.31 1668.39,192.09 1669.2,187.86 C1669.97,183.83 1671.15,180.5 1672,176.14 C1673.06,170.72 1673.98,163.54 1674.8,157.79 C1675.52,152.72 1675.83,147.9 1676.7,143.45 C1677.48,139.48 1678.25,135.72 1679.6,132.34 C1680.84,129.24 1682.57,126.59 1684.3,123.86 C1686.03,121.14 1688.21,116.51 1690,116 C1691.04,115.71 1691.73,116.61 1693,117.24 C1695.44,118.44 1700,120.72 1703.3,123.17 C1706.92,125.86 1711.25,129.74 1713.7,132.97 C1715.55,135.4 1716.24,137.47 1717.5,140.21 C1719.07,143.61 1720.8,147.88 1722.2,151.93 C1723.65,156.14 1724.72,160.73 1726,165.03 C1727.25,169.23 1728.75,172.87 1729.8,177.45 C1731.05,182.91 1731.54,190.24 1732.6,195.72 C1733.48,200.28 1734.55,204 1735.5,208.14 C1736.45,212.27 1737.36,216.36 1738.3,220.55 C1739.26,224.84 1740.37,228.84 1741.2,233.59 C1742.19,239.19 1742.52,246.28 1743.6,252.07 C1744.57,257.29 1746.42,261.75 1747.2,266.83 C1748.01,272.09 1747.66,277.99 1748.3,283.1 C1748.88,287.73 1749.87,291.99 1750.7,296.21 C1751.48,300.16 1752.38,303.31 1753.1,307.66 C1754.04,313.3 1754.63,321.38 1755.5,327.24 C1756.22,332.06 1756.99,336.14 1757.8,340.34 C1758.56,344.28 1759.48,347.4 1760.2,351.72 C1761.14,357.37 1761.71,365.62 1762.6,371.38 C1763.31,375.94 1764.12,379.51 1764.9,383.59 C1765.68,387.67 1766.41,391.38 1767.3,395.86 C1768.37,401.29 1769.56,408.57 1770.9,413.86 C1771.98,418.14 1773.38,421.02 1774.4,425.31 C1775.66,430.63 1776.38,436.81 1777.5,443.45 C1778.87,451.53 1780.34,462.23 1782,470.34 C1783.39,477.15 1784.87,482.38 1786.5,488.97 C1788.34,496.42 1790.46,505.02 1792.5,512.76 C1794.46,520.18 1796.52,527.15 1798.5,534.48 C1800.52,541.97 1801.95,550.63 1804.5,557.24 C1806.62,562.74 1809.78,566.66 1812,571.72 C1814.3,576.99 1815.86,583.2 1818,588.28 C1819.89,592.76 1821.67,596.46 1824,600.69 C1826.59,605.4 1829.69,610.24 1833,615.17 C1836.63,620.57 1840.28,627.34 1845,631.72 C1849.38,635.8 1854.86,638.59 1860,641.03 C1864.87,643.35 1869.69,645.32 1875,646.21 C1880.65,647.15 1887.62,646.67 1893,646.21 C1897.42,645.83 1900.78,644.94 1905,644.14 C1909.73,643.24 1915.04,642.4 1920,641.03 C1925.04,639.65 1930.03,637.75 1935,635.86 C1940.03,633.96 1944.98,631.62 1950,629.66 C1954.98,627.71 1960.01,626.1 1965,624.14 C1970.05,622.15 1975.24,620.18 1980.1,617.79 C1984.9,615.44 1989.37,612.55 1994,609.93 C1998.63,607.31 2002.97,604.8 2007.9,602.07 C2013.43,599.01 2020.19,595.43 2025.6,592.48 C2030.19,589.98 2034.08,587.84 2038.3,585.52 C2042.51,583.2 2046.25,581.01 2050.9,578.55 C2056.54,575.56 2064.15,571.95 2069.8,568.97 C2074.47,566.5 2078.15,564.28 2082.5,562 C2087.01,559.64 2091.48,557.48 2096.4,555.03 C2101.94,552.28 2108.5,548.71 2114.1,546.28 C2118.96,544.16 2123.39,542.91 2128,541.03 C2132.66,539.14 2137.05,536.93 2141.9,534.97 C2147.11,532.85 2153.06,530.78 2158.3,528.83 C2163.12,527.03 2167.66,525.29 2172.2,523.66 C2176.52,522.1 2180.26,520.9 2184.9,519.24 C2190.58,517.21 2197.96,514.26 2203.8,512.28 C2208.77,510.59 2213.32,509.27 2217.7,507.93 C2221.6,506.74 2224.55,505.85 2228.8,504.62 C2234.51,502.98 2243.14,500.75 2248.9,499.03 C2253.28,497.73 2256.45,496.45 2260.4,495.38 C2264.5,494.27 2268.42,493.63 2273.1,492.55 C2278.91,491.22 2286.78,489.25 2292.6,487.93 C2297.31,486.87 2301.08,486.08 2305.4,485.17 C2309.81,484.24 2314.03,483.29 2318.8,482.41 C2324.21,481.42 2330.7,480.48 2336.2,479.59 C2341.15,478.79 2345.79,478.11 2350.3,477.31 C2354.49,476.57 2357.88,475.78 2362.4,474.97 C2368.12,473.94 2376.17,472.64 2381.9,471.72 C2386.41,471 2389.92,470.48 2394,469.86 C2398.18,469.23 2402.01,468.68 2406.7,468 C2412.5,467.16 2420.48,466.18 2426.2,465.24 C2430.72,464.5 2434.16,463.64 2438.3,462.97 C2442.64,462.26 2447.89,461.62 2451.7,461.1 C2454.53,460.72 2456.63,460.46 2459.1,460.14" fill="none" stroke="#008080" stroke-width="4.3260000000000005" stroke-linecap="round" stroke-linejoin="round" stroke-dasharray="15.79 13.71 1.07 13.5"/>
</g>
<rect x="2064" y="40.8" width="367" height="300.6" fill="#fff" stroke="#3c3c3c" stroke-width="1.5"/>
<g transform="scale(1,1.45)">
<path d="M2073.5,59.17 L2152.5,59.17" fill="none" stroke="#000" stroke-width="3.8110000000000004" stroke-linecap="round"/>
<path d="M2073.5,110.9 L2152.5,110.9" fill="none" stroke="#ff0000" stroke-width="4.3260000000000005" stroke-linecap="round" stroke-dasharray="13.23 22.3"/>
<path d="M2073.5,162.62 L2152.5,162.62" fill="none" stroke="#0000ff" stroke-width="4.3260000000000005" stroke-linecap="round" stroke-dasharray="1.92 19.21"/>
<path d="M2073.5,214.34 L2152.5,214.34" fill="none" stroke="#008080" stroke-width="4.3260000000000005" stroke-linecap="round" stroke-dasharray="15.79 13.71 1.07 13.5"/>
</g>
<g stroke="#000" fill="none" stroke-linecap="butt">
<path d="M1461.2,17.2 H2460.2 V1075.8 H1461.2 Z" stroke-width="3.6"/>
<path d="M1453.2,17.18 H1461.2 M2460.2,17.18 H2452.7 M1446.7,63.2 H1461.2 M2460.2,63.2 H2446.2 M1453.2,109.22 H1461.2 M2460.2,109.22 H2452.7 M1446.7,155.25 H1461.2 M2460.2,155.25 H2446.2 M1453.2,201.27 H1461.2 M2460.2,201.27 H2452.7 M1446.7,247.3 H1461.2 M2460.2,247.3 H2446.2 M1453.2,293.32 H1461.2 M2460.2,293.32 H2452.7 M1446.7,339.35 H1461.2 M2460.2,339.35 H2446.2 M1453.2,385.38 H1461.2 M2460.2,385.38 H2452.7 M1446.7,431.4 H1461.2 M2460.2,431.4 H2446.2 M1453.2,477.42 H1461.2 M2460.2,477.42 H2452.7 M1446.7,523.45 H1461.2 M2460.2,523.45 H2446.2 M1453.2,569.48 H1461.2 M2460.2,569.48 H2452.7 M1446.7,615.5 H1461.2 M2460.2,615.5 H2446.2 M1453.2,661.53 H1461.2 M2460.2,661.53 H2452.7 M1446.7,707.55 H1461.2 M2460.2,707.55 H2446.2 M1453.2,753.58 H1461.2 M2460.2,753.58 H2452.7 M1446.7,799.6 H1461.2 M2460.2,799.6 H2446.2 M1453.2,845.62 H1461.2 M2460.2,845.62 H2452.7 M1446.7,891.65 H1461.2 M2460.2,891.65 H2446.2 M1453.2,937.68 H1461.2 M2460.2,937.68 H2452.7 M1446.7,983.7 H1461.2 M2460.2,983.7 H2446.2 M1453.2,1029.72 H1461.2 M2460.2,1029.72 H2452.7 M1446.7,1075.75 H1461.2 M2460.2,1075.75 H2446.2" stroke-width="3.4"/>
<path d="M1461.2,1075.8 V1096.3 M1461.2,17.2 V37.2 M1561.1,1075.8 V1087.3 M1561.1,17.2 V27.7 M1661,1075.8 V1096.3 M1661,17.2 V37.2 M1760.9,1075.8 V1087.3 M1760.9,17.2 V27.7 M1860.8,1075.8 V1096.3 M1860.8,17.2 V37.2 M1960.7,1075.8 V1087.3 M1960.7,17.2 V27.7 M2060.6,1075.8 V1096.3 M2060.6,17.2 V37.2 M2160.5,1075.8 V1087.3 M2160.5,17.2 V27.7 M2260.4,1075.8 V1096.3 M2260.4,17.2 V37.2 M2360.3,1075.8 V1087.3 M2360.3,17.2 V27.7 M2460.2,1075.8 V1096.3 M2460.2,17.2 V37.2" stroke-width="2.1"/>
</g>
<text transform="translate(113.07,78.41) scale(0.6830,1)" font-size="39.83" font-family='"Liberation Sans", Arial, sans-serif' style="" fill="#000" >600</text>
<text transform="translate(113.07,144.62) scale(0.6830,1)" font-size="39.83" font-family='"Liberation Sans", Arial, sans-serif' style="" fill="#000" >500</text>
<text transform="translate(113.07,210.83) scale(0.6830,1)" font-size="39.83" font-family='"Liberation Sans", Arial, sans-serif' style="" fill="#000" >400</text>
<text transform="translate(113.07,277.04) scale(0.6830,1)" font-size="39.83" font-family='"Liberation Sans", Arial, sans-serif' style="" fill="#000" >300</text>
<text transform="translate(113.07,343.25) scale(0.6830,1)" font-size="39.83" font-family='"Liberation Sans", Arial, sans-serif' style="" fill="#000" >200</text>
<text transform="translate(113.07,409.46) scale(0.6830,1)" font-size="39.83" font-family='"Liberation Sans", Arial, sans-serif' style="" fill="#000" >100</text>
<text transform="translate(143.33,475.67) scale(0.6830,1)" font-size="39.83" font-family='"Liberation Sans", Arial, sans-serif' style="" fill="#000" >0</text>
<text transform="translate(104.01,541.88) scale(0.6830,1)" font-size="39.83" font-family='"Liberation Sans", Arial, sans-serif' style="" fill="#000" >-100</text>
<text transform="translate(104.01,608.09) scale(0.6830,1)" font-size="39.83" font-family='"Liberation Sans", Arial, sans-serif' style="" fill="#000" >-200</text>
<text transform="translate(104.01,674.3) scale(0.6830,1)" font-size="39.83" font-family='"Liberation Sans", Arial, sans-serif' style="" fill="#000" >-300</text>
<text transform="translate(104.01,740.51) scale(0.6830,1)" font-size="39.83" font-family='"Liberation Sans", Arial, sans-serif' style="" fill="#000" >-400</text>
<text transform="translate(104.01,806.72) scale(0.6830,1)" font-size="39.83" font-family='"Liberation Sans", Arial, sans-serif' style="" fill="#000" >-500</text>
<text transform="translate(104.01,872.93) scale(0.6830,1)" font-size="39.83" font-family='"Liberation Sans", Arial, sans-serif' style="" fill="#000" >-600</text>
<text transform="translate(104.01,939.14) scale(0.6830,1)" font-size="39.83" font-family='"Liberation Sans", Arial, sans-serif' style="" fill="#000" >-700</text>
<text transform="translate(104.01,1005.35) scale(0.6830,1)" font-size="39.83" font-family='"Liberation Sans", Arial, sans-serif' style="" fill="#000" >-800</text>
<text transform="translate(104.01,1071.56) scale(0.6830,1)" font-size="39.83" font-family='"Liberation Sans", Arial, sans-serif' style="" fill="#000" >-900</text>
<text transform="translate(162.85,1126.3) scale(0.6520,1)" font-size="41.38" font-family='"Liberation Sans", Arial, sans-serif' fill="#000">0.0</text>
<text transform="translate(349.77,1126.3) scale(0.6520,1)" font-size="41.38" font-family='"Liberation Sans", Arial, sans-serif' fill="#000">0.2</text>
<text transform="translate(536.69,1126.3) scale(0.6520,1)" font-size="41.38" font-family='"Liberation Sans", Arial, sans-serif' fill="#000">0.4</text>
<text transform="translate(723.61,1126.3) scale(0.6520,1)" font-size="41.38" font-family='"Liberation Sans", Arial, sans-serif' fill="#000">0.6</text>
<text transform="translate(910.53,1126.3) scale(0.6520,1)" font-size="41.38" font-family='"Liberation Sans", Arial, sans-serif' fill="#000">0.8</text>
<text transform="translate(1097.45,1126.3) scale(0.6520,1)" font-size="41.38" font-family='"Liberation Sans", Arial, sans-serif' fill="#000">1.0</text>
<text transform="translate(1388.3,73.39) scale(0.6900,1)" font-size="41.81" font-family='"Liberation Sans", Arial, sans-serif' style="" fill="#000" >600</text>
<text transform="translate(1388.3,165.44) scale(0.6900,1)" font-size="41.81" font-family='"Liberation Sans", Arial, sans-serif' style="" fill="#000" >500</text>
<text transform="translate(1388.3,257.49) scale(0.6900,1)" font-size="41.81" font-family='"Liberation Sans", Arial, sans-serif' style="" fill="#000" >400</text>
<text transform="translate(1388.3,349.54) scale(0.6900,1)" font-size="41.81" font-family='"Liberation Sans", Arial, sans-serif' style="" fill="#000" >300</text>
<text transform="translate(1388.3,441.59) scale(0.6900,1)" font-size="41.81" font-family='"Liberation Sans", Arial, sans-serif' style="" fill="#000" >200</text>
<text transform="translate(1388.3,533.64) scale(0.6900,1)" font-size="41.81" font-family='"Liberation Sans", Arial, sans-serif' style="" fill="#000" >100</text>
<text transform="translate(1420.38,625.69) scale(0.6900,1)" font-size="41.81" font-family='"Liberation Sans", Arial, sans-serif' style="" fill="#000" >0</text>
<text transform="translate(1378.69,717.74) scale(0.6900,1)" font-size="41.81" font-family='"Liberation Sans", Arial, sans-serif' style="" fill="#000" >-100</text>
<text transform="translate(1378.69,809.79) scale(0.6900,1)" font-size="41.81" font-family='"Liberation Sans", Arial, sans-serif' style="" fill="#000" >-200</text>
<text transform="translate(1378.69,901.84) scale(0.6900,1)" font-size="41.81" font-family='"Liberation Sans", Arial, sans-serif' style="" fill="#000" >-300</text>
<text transform="translate(1378.69,993.89) scale(0.6900,1)" font-size="41.81" font-family='"Liberation Sans", Arial, sans-serif' style="" fill="#000" >-400</text>
<text transform="translate(1378.69,1085.94) scale(0.6900,1)" font-size="41.81" font-family='"Liberation Sans", Arial, sans-serif' style="" fill="#000" >-500</text>
<text transform="translate(1441.27,1141.49) scale(0.6880,1)" font-size="41.67" font-family='"Liberation Sans", Arial, sans-serif' fill="#000">0.0</text>
<text transform="translate(1641.07,1141.49) scale(0.6880,1)" font-size="41.67" font-family='"Liberation Sans", Arial, sans-serif' fill="#000">0.2</text>
<text transform="translate(1840.87,1141.49) scale(0.6880,1)" font-size="41.67" font-family='"Liberation Sans", Arial, sans-serif' fill="#000">0.4</text>
<text transform="translate(2040.67,1141.49) scale(0.6880,1)" font-size="41.67" font-family='"Liberation Sans", Arial, sans-serif' fill="#000">0.6</text>
<text transform="translate(2240.47,1141.49) scale(0.6880,1)" font-size="41.67" font-family='"Liberation Sans", Arial, sans-serif' fill="#000">0.8</text>
<text transform="translate(2440.27,1141.49) scale(0.6880,1)" font-size="41.67" font-family='"Liberation Sans", Arial, sans-serif' fill="#000">1.0</text>
<text transform="translate(565.05,1205.03) scale(0.6586,1)" font-size="50.96" font-family='"Liberation Sans", Arial, sans-serif' style="" fill="#000" >Depth(mm)</text>
<text transform="translate(1801.66,1222.92) scale(0.6891,1)" font-size="51.92" font-family='"Liberation Sans", Arial, sans-serif' style="" fill="#000" >Radial position(mm)</text>
<text transform="translate(53.6,796.32) rotate(-90) scale(1.4285,1)" font-size="34.29" font-family='"Liberation Sans", Arial, sans-serif' fill="#000">Residual stress (MPa)</text>
<text transform="translate(1323.92,801.94) rotate(-90) scale(1.4161,1)" font-size="35.64" font-family='"Liberation Sans", Arial, sans-serif' fill="#000">Residual stress (MPa)</text>
<text transform="translate(17.23,77.8) scale(0.6758,1)" font-size="68.59" font-family='"Liberation Sans", Arial, sans-serif' style="" fill="#000" >(a)</text>
<text transform="translate(1282.19,75.56) scale(0.6913,1)" font-size="67.84" font-family='"Liberation Sans", Arial, sans-serif' style="" fill="#000" >(b)</text>
<text transform="translate(844.77,123) scale(0.7451,1)" font-size="59.26" font-family='"Liberation Serif", "Times New Roman", serif' style="font-style:italic;" fill="#000" >I</text>
<text transform="translate(859.25,123.59) scale(0.6338,1)" font-size="31.27" font-family='"Liberation Serif", "Times New Roman", serif' style="" fill="#000" >0</text>
<text transform="translate(869.88,121.88) scale(0.6380,1)" font-size="48.72" font-family='"Liberation Sans", Arial, sans-serif' style="" fill="#000" >=</text>
<text transform="translate(905.92,123.51) scale(0.6656,1)" font-size="50.11" font-family='"Liberation Sans", Arial, sans-serif' style="" fill="#000" >2.21GW/cm</text>
<text transform="translate(1081.55,95.9) scale(0.7103,1)" font-size="29.36" font-family='"Liberation Sans", Arial, sans-serif' style="" fill="#000" >2</text>
<text transform="translate(844.77,195.8) scale(0.7451,1)" font-size="59.26" font-family='"Liberation Serif", "Times New Roman", serif' style="font-style:italic;" fill="#000" >I</text>
<text transform="translate(859.25,196.39) scale(0.6338,1)" font-size="31.27" font-family='"Liberation Serif", "Times New Roman", serif' style="" fill="#000" >0</text>
<text transform="translate(869.88,194.68) scale(0.6380,1)" font-size="48.72" font-family='"Liberation Sans", Arial, sans-serif' style="" fill="#000" >=</text>
<text transform="translate(905.92,196.31) scale(0.6656,1)" font-size="50.11" font-family='"Liberation Sans", Arial, sans-serif' style="" fill="#000" >4.97GW/cm</text>
<text transform="translate(1081.55,168.7) scale(0.7103,1)" font-size="29.36" font-family='"Liberation Sans", Arial, sans-serif' style="" fill="#000" >2</text>
<text transform="translate(844.77,268.6) scale(0.7451,1)" font-size="59.26" font-family='"Liberation Serif", "Times New Roman", serif' style="font-style:italic;" fill="#000" >I</text>
<text transform="translate(859.25,269.19) scale(0.6338,1)" font-size="31.27" font-family='"Liberation Serif", "Times New Roman", serif' style="" fill="#000" >0</text>
<text transform="translate(869.88,267.48) scale(0.6380,1)" font-size="48.72" font-family='"Liberation Sans", Arial, sans-serif' style="" fill="#000" >=</text>
<text transform="translate(905.92,269.11) scale(0.6656,1)" font-size="50.11" font-family='"Liberation Sans", Arial, sans-serif' style="" fill="#000" >8.83GW/cm</text>
<text transform="translate(1081.55,241.5) scale(0.7103,1)" font-size="29.36" font-family='"Liberation Sans", Arial, sans-serif' style="" fill="#000" >2</text>
<text transform="translate(844.77,341.4) scale(0.7451,1)" font-size="59.26" font-family='"Liberation Serif", "Times New Roman", serif' style="font-style:italic;" fill="#000" >I</text>
<text transform="translate(859.25,341.99) scale(0.6338,1)" font-size="31.27" font-family='"Liberation Serif", "Times New Roman", serif' style="" fill="#000" >0</text>
<text transform="translate(869.88,340.28) scale(0.6380,1)" font-size="48.72" font-family='"Liberation Sans", Arial, sans-serif' style="" fill="#000" >=</text>
<text transform="translate(887.37,341.91) scale(0.6656,1)" font-size="50.11" font-family='"Liberation Sans", Arial, sans-serif' style="" fill="#000" >13.80GW/cm</text>
<text transform="translate(1081.55,314.3) scale(0.7103,1)" font-size="29.36" font-family='"Liberation Sans", Arial, sans-serif' style="" fill="#000" >2</text>
<text transform="translate(2160.89,104.3) scale(0.7928,1)" font-size="61.39" font-family='"Liberation Serif", "Times New Roman", serif' style="font-style:italic;" fill="#000" >I</text>
<text transform="translate(2175.79,104.48) scale(0.7343,1)" font-size="32.45" font-family='"Liberation Serif", "Times New Roman", serif' style="" fill="#000" >0</text>
<text transform="translate(2188.29,103.21) scale(0.6280,1)" font-size="52.44" font-family='"Liberation Sans", Arial, sans-serif' style="" fill="#000" >=</text>
<text transform="translate(2226.91,104.7) scale(0.6931,1)" font-size="51.34" font-family='"Liberation Sans", Arial, sans-serif' style="" fill="#000" >2.21GW/cm</text>
<text transform="translate(2415.04,76.8) scale(0.6719,1)" font-size="31.36" font-family='"Liberation Sans", Arial, sans-serif' style="" fill="#000" >2</text>
<text transform="translate(2160.89,179.3) scale(0.7928,1)" font-size="61.39" font-family='"Liberation Serif", "Times New Roman", serif' style="font-style:italic;" fill="#000" >I</text>
<text transform="translate(2175.79,179.48) scale(0.7343,1)" font-size="32.45" font-family='"Liberation Serif", "Times New Roman", serif' style="" fill="#000" >0</text>
<text transform="translate(2188.29,178.21) scale(0.6280,1)" font-size="52.44" font-family='"Liberation Sans", Arial, sans-serif' style="" fill="#000" >=</text>
<text transform="translate(2226.91,179.7) scale(0.6931,1)" font-size="51.34" font-family='"Liberation Sans", Arial, sans-serif' style="" fill="#000" >4.97GW/cm</text>
<text transform="translate(2415.04,151.8) scale(0.6719,1)" font-size="31.36" font-family='"Liberation Sans", Arial, sans-serif' style="" fill="#000" >2</text>
<text transform="translate(2160.89,254.3) scale(0.7928,1)" font-size="61.39" font-family='"Liberation Serif", "Times New Roman", serif' style="font-style:italic;" fill="#000" >I</text>
<text transform="translate(2175.79,254.48) scale(0.7343,1)" font-size="32.45" font-family='"Liberation Serif", "Times New Roman", serif' style="" fill="#000" >0</text>
<text transform="translate(2188.29,253.21) scale(0.6280,1)" font-size="52.44" font-family='"Liberation Sans", Arial, sans-serif' style="" fill="#000" >=</text>
<text transform="translate(2226.91,254.7) scale(0.6931,1)" font-size="51.34" font-family='"Liberation Sans", Arial, sans-serif' style="" fill="#000" >8.83GW/cm</text>
<text transform="translate(2415.04,226.8) scale(0.6719,1)" font-size="31.36" font-family='"Liberation Sans", Arial, sans-serif' style="" fill="#000" >2</text>
<text transform="translate(2160.89,329.3) scale(0.7928,1)" font-size="61.39" font-family='"Liberation Serif", "Times New Roman", serif' style="font-style:italic;" fill="#000" >I</text>
<text transform="translate(2175.79,329.48) scale(0.7343,1)" font-size="32.45" font-family='"Liberation Serif", "Times New Roman", serif' style="" fill="#000" >0</text>
<text transform="translate(2188.29,328.21) scale(0.6280,1)" font-size="52.44" font-family='"Liberation Sans", Arial, sans-serif' style="" fill="#000" >=</text>
<text transform="translate(2207.12,329.7) scale(0.6931,1)" font-size="51.34" font-family='"Liberation Sans", Arial, sans-serif' style="" fill="#000" >13.80GW/cm</text>
<text transform="translate(2415.04,301.8) scale(0.6719,1)" font-size="31.36" font-family='"Liberation Sans", Arial, sans-serif' style="" fill="#000" >2</text></svg></body></html>
